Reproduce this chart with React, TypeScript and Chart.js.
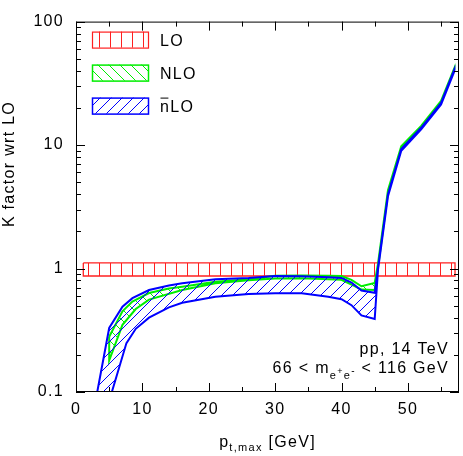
import React, { useEffect, useRef } from 'react';
import { Chart, registerables } from 'chart.js';

Chart.register(...registerables);

const FONT = '"Liberation Sans", Arial, Helvetica, sans-serif';

// axis ranges and ticks
const xRange = [0, 57.7];
const yRange = [0.1, 100];
const xMajorTicks = [0, 10, 20, 30, 40, 50];
const xMinorTicks = [5, 15, 25, 35, 45, 55];
const yMajorTicks = [0.1, 1, 10, 100];

const seriesNames = ['LO', 'NLO', 'nLO'];

// LO band
const loPt = [1.1, 57.1];
const loHi = [1.11, 1.11];
const loLo = [0.87, 0.87];

// NLO band (green)
const nloHiPt = [5, 7, 8.5, 11, 14, 16, 21, 26, 30, 34, 38, 40, 41.5, 43, 45, 45.5, 47, 49, 52, 55, 57];
const nloHi = [0.28, 0.45, 0.54, 0.633, 0.69, 0.713, 0.78, 0.82, 0.875, 0.88, 0.875, 0.87, 0.81, 0.718, 0.763, 1.1, 4.3, 9.8, 14.3, 22.8, 42];
const nloLoPt = [5, 7, 9, 11, 16, 21, 26, 30, 34, 38, 40, 41.5, 43, 45, 45.5, 47, 49, 52, 55, 57];
const nloLo = [0.18, 0.35, 0.47, 0.56, 0.67, 0.76, 0.805, 0.83, 0.835, 0.82, 0.81, 0.74, 0.675, 0.67, 1.02, 4.1, 9.4, 13.9, 22.2, 41];

// nLO band (blue)
const nnloHiPt = [3.2, 5, 7, 8.5, 11, 14, 16, 21, 26, 30, 34, 38, 40, 41.5, 43, 45, 45.5, 47, 49, 52, 55, 57];
const nnloHi = [0.1, 0.33, 0.49, 0.575, 0.67, 0.73, 0.76, 0.82, 0.84, 0.87, 0.865, 0.85, 0.84, 0.77, 0.663, 0.636, 1.02, 4.0, 9.3, 13.8, 22, 41];
const nnloLoPt = [5.4, 7.6, 9, 11, 14, 16, 21, 26, 30, 34, 38, 40, 41.5, 43, 45, 45.5, 47, 49, 52, 55, 57];
const nnloLo = [0.1, 0.249, 0.325, 0.4, 0.485, 0.528, 0.59, 0.622, 0.63, 0.63, 0.59, 0.565, 0.505, 0.417, 0.39, 0.98, 3.85, 9.0, 13.4, 21.3, 39.5];

const annotationLine1 = 'pp, 14 TeV';
const xTitleMain = 'p';
const xTitleSub = 't,max';
const xTitleUnit = ' [GeV]';
const yTitle = 'K factor wrt LO';

function band(hiPt: number[], hi: number[], lowPt: number[], low: number[]) {
  const up = hiPt.map((x, i) => ({ x, y: hi[i] }));
  const dn = lowPt.map((x, i) => ({ x, y: low[i] })).reverse();
  return [...up, ...dn, { x: hiPt[0], y: hi[0] }];
}

function makePattern(color: string, kind: string, p: number) {
  const c = document.createElement('canvas');
  c.width = p;
  c.height = p;
  const g = c.getContext('2d')!;
  g.strokeStyle = color;
  g.lineWidth = 1;
  g.beginPath();
  if (kind === 'v') {
    g.moveTo(0.5, 0);
    g.lineTo(0.5, p);
  } else if (kind === 'back') {
    for (const k of [-1, 0, 1]) {
      g.moveTo(k * p, 0);
      g.lineTo(k * p + p, p);
    }
  } else {
    for (const k of [-1, 0, 1]) {
      g.moveTo(k * p, p);
      g.lineTo(k * p + p, 0);
    }
  }
  g.stroke();
  return g.createPattern(c, 'repeat') as CanvasPattern;
}

type Part = { text: string; size: number; dy: number };

function drawParts(ctx: CanvasRenderingContext2D, parts: Part[], x: number, y: number, align: string) {
  let total = 0;
  const widths = parts.map((p) => {
    ctx.font = `${p.size}px ${FONT}`;
    const w = ctx.measureText(p.text).width;
    total += w;
    return w;
  });
  let cx = align === 'right' ? x - total : align === 'center' ? x - total / 2 : x;
  ctx.textAlign = 'left';
  ctx.textBaseline = 'alphabetic';
  parts.forEach((p, i) => {
    ctx.font = `${p.size}px ${FONT}`;
    ctx.fillText(p.text, cx, y + p.dy);
    cx += widths[i];
  });
}

const decorPlugin = {
  id: 'decor',
  beforeDraw(chart: any) {
    (chart.ctx as any).letterSpacing = '1.3px';
  },
  afterDraw(chart: any) {
    const ctx: CanvasRenderingContext2D = chart.ctx;
    const { left, right, top, bottom } = chart.chartArea;
    const xs = chart.scales.x;
    const ys = chart.scales.y;
    ctx.save();
    (ctx as any).letterSpacing = '1.3px';
    // frame
    ctx.strokeStyle = '#000';
    ctx.lineWidth = 1;
    ctx.strokeRect(left + 0.5, top + 0.5, right - left - 1, bottom - top - 1);
    // ticks
    const major = 9;
    const minor = 5;
    ctx.beginPath();
    const xTick = (v: number, len: number) => {
      const px = Math.round(xs.getPixelForValue(v)) + 0.5;
      ctx.moveTo(px, bottom);
      ctx.lineTo(px, bottom - len);
      ctx.moveTo(px, top);
      ctx.lineTo(px, top + len);
    };
    const yTick = (v: number, len: number) => {
      const py = Math.round(ys.getPixelForValue(v)) + 0.5;
      ctx.moveTo(left, py);
      ctx.lineTo(left + len, py);
      ctx.moveTo(right, py);
      ctx.lineTo(right - len, py);
    };
    xMajorTicks.forEach((v) => xTick(v, major));
    xMinorTicks.forEach((v) => xTick(v, minor));
    yMajorTicks.forEach((v) => yTick(v, major));
    yMajorTicks.slice(0, -1).forEach((d) => {
      for (let k = 2; k <= 9; k++) yTick(d * k, minor);
    });
    ctx.stroke();

    // legend
    ctx.fillStyle = '#000';
    const ds = chart.data.datasets;
    const boxX = left + 16;
    const boxW = 56;
    const boxH = 16;
    const rowH = 33;
    seriesNames.forEach((name, i) => {
      const d = ds[i];
      const by = top + 10 + i * rowH;
      ctx.fillStyle = d.backgroundColor;
      ctx.fillRect(boxX, by, boxW, boxH);
      ctx.strokeStyle = d.borderColor;
      ctx.lineWidth = i === 0 ? 1.2 : 1.5;
      ctx.strokeRect(boxX + 0.5, by + 0.5, boxW, boxH);
      ctx.fillStyle = '#000';
      ctx.font = `16px ${FONT}`;
      ctx.textAlign = 'left';
      ctx.textBaseline = 'alphabetic';
      const tx = boxX + 68;
      const ty = by + boxH / 2 + 6;
      if (name === 'nLO') {
        ctx.fillText('n', tx, ty);
        const wn = ctx.measureText('n').width - 1.3;
        ctx.fillText('LO', tx + wn + 1.3, ty);
        ctx.strokeStyle = '#000';
        ctx.lineWidth = 1;
        ctx.beginPath();
        ctx.moveTo(tx + 0.5, ty - 13.5);
        ctx.lineTo(tx + wn - 0.5, ty - 13.5);
        ctx.stroke();
      } else {
        ctx.fillText(name, tx, ty);
      }
    });

    // annotation
    ctx.fillStyle = '#000';
    drawParts(ctx, [{ text: annotationLine1, size: 16, dy: 0 }], 449, 354, 'right');
    drawParts(
      ctx,
      [
        { text: '66 < m', size: 16, dy: 0 },
        { text: 'e', size: 11, dy: 6 },
        { text: '+', size: 9, dy: 1 },
        { text: 'e', size: 11, dy: 6 },
        { text: '-', size: 10, dy: 1 },
        { text: ' < 116 GeV', size: 16, dy: 0 },
      ],
      449,
      373,
      'right'
    );

    // x title
    drawParts(
      ctx,
      [
        { text: xTitleMain, size: 16, dy: 0 },
        { text: xTitleSub, size: 11, dy: 4 },
        { text: xTitleUnit, size: 16, dy: 0 },
      ],
      (left + right) / 2,
      447,
      'center'
    );

    // y title
    ctx.translate(14, 164);
    ctx.rotate(-Math.PI / 2);
    ctx.font = `16px ${FONT}`;
    ctx.textAlign = 'center';
    ctx.textBaseline = 'alphabetic';
    ctx.fillText(yTitle, 0, 0);
    ctx.restore();
  },
};

export default function App() {
  const ref = useRef<HTMLCanvasElement>(null);
  useEffect(() => {
    const blueHatch = makePattern('#0000ff', 'fwd', 11);
    const greenHatch = makePattern('#00ee00', 'back', 11);
    const redHatch = makePattern('#ff2020', 'v', 11);
    const chart = new Chart(ref.current!, {
      type: 'line',
      data: {
        datasets: [
          {
            label: seriesNames[0],
            data: band(loPt, loHi, loPt, loLo),
            borderColor: '#ff2020',
            borderWidth: 1.3,
            backgroundColor: redHatch,
            fill: 'shape',
            pointRadius: 0,
            tension: 0,
            order: 2,
          },
          {
            label: seriesNames[1],
            data: band(nloHiPt, nloHi, nloLoPt, nloLo),
            borderColor: '#00ee00',
            borderWidth: 2,
            backgroundColor: greenHatch,
            fill: 'shape',
            pointRadius: 0,
            tension: 0,
            order: 1,
          },
          {
            label: seriesNames[2],
            data: band(nnloHiPt, nnloHi, nnloLoPt, nnloLo),
            borderColor: '#0000ff',
            borderWidth: 2,
            backgroundColor: blueHatch,
            fill: 'shape',
            pointRadius: 0,
            tension: 0,
            order: 0,
          },
        ] as any,
      },
      options: {
        animation: false,
        responsive: false,
        devicePixelRatio: 1,
        layout: { padding: { left: 0, right: 4, top: 10, bottom: 0 } },
        plugins: { legend: { display: false }, tooltip: { enabled: false } },
        scales: {
          x: {
            type: 'linear',
            min: xRange[0],
            max: xRange[1],
            grid: { display: false, drawTicks: false },
            border: { display: false },
            ticks: {
              color: '#000',
              font: { family: FONT, size: 16 },
              padding: 8,
              maxRotation: 0,
              autoSkip: false,
              callback: (v: any) => String(v),
            },
            afterBuildTicks: (s: any) => {
              s.ticks = xMajorTicks.map((v) => ({ value: v }));
            },
            afterFit: (s: any) => {
              s.height = 64;
            },
          },
          y: {
            type: 'logarithmic',
            min: yRange[0],
            max: yRange[1],
            grid: { display: false, drawTicks: false },
            border: { display: false },
            ticks: {
              color: '#000',
              font: { family: FONT, size: 16 },
              padding: 12,
              autoSkip: false,
              callback: (v: any) => String(v),
            },
            afterBuildTicks: (s: any) => {
              s.ticks = yMajorTicks.map((v) => ({ value: v }));
            },
            afterFit: (s: any) => {
              s.width = 76;
            },
          },
        },
      } as any,
      plugins: [decorPlugin],
    });
    return () => chart.destroy();
  }, []);
  return (
    <div style={{ position: 'absolute', left: 0, top: 0, width: 463, height: 456, background: '#fff' }}>
      <canvas ref={ref} width={463} height={456} style={{ width: 463, height: 456, display: 'block' }} />
    </div>
  );
}
